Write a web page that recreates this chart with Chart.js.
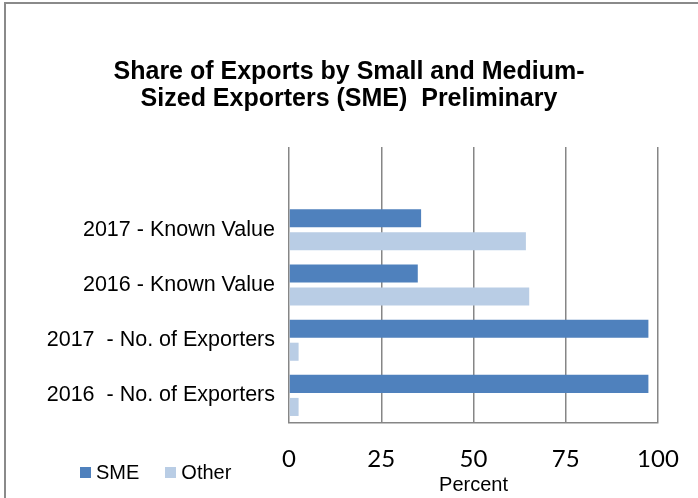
<!DOCTYPE html>
<html>
<head>
<meta charset="utf-8">
<script src="https://cdn.jsdelivr.net/npm/chart.js@4/dist/chart.umd.min.js"></script>
<style>
  body { margin: 0; background: #fff; width: 698px; height: 498px; overflow: hidden; position: relative; }
  #frame { position: absolute; left: 4px; top: 2px; width: 800px; height: 600px;
           border-left: 2px solid #8a8a8a; border-top: 2px solid #8a8a8a; }
  #mycanvas { position: absolute; left: 0; top: 0; }
  #legend { position: absolute; left: 80px; top: 461px; font-family: "Liberation Sans", Arial, sans-serif;
            font-size: 20px; color: #000; white-space: nowrap; }
  #legend span.item { display: inline-block; margin-right: 26px; }
  #legend span.box { display: inline-block; width: 11px; height: 11px; margin-right: 5px; vertical-align: 1px; }
</style>
</head>
<body>
<div id="frame"></div>
<canvas id="mycanvas" width="698" height="498"></canvas>
<div id="legend"></div>
<script>
// first row is blank in the original sheet, it leaves the empty band at the top
var categories = ["", "2017 - Known Value", "2016 - Known Value", "2017  - No. of Exporters", "2016  - No. of Exporters"];
var sme = [null, 35.8, 34.9, 97.4, 97.4];
var other = [null, 64.2, 65.1, 2.6, 2.6];
var seriesNames = ["SME", "Other"];
var seriesColors = ["#4F81BD", "#B9CDE5"];
var titleLines = ["Share of Exports by Small and Medium-", "Sized Exporters (SME)  Preliminary"];

Chart.defaults.font.family = '"Liberation Sans", Arial, sans-serif';
Chart.defaults.color = '#000';

var side = 40; // same padding both sides keeps the title centred on the page

var chartdata = {
  labels: categories,
  datasets: [
    {
      label: seriesNames[0],
      backgroundColor: seriesColors[0],
      data: sme,
      categoryPercentage: 0.836,
      barPercentage: 0.783
    },
    {
      label: seriesNames[1],
      backgroundColor: seriesColors[1],
      data: other,
      categoryPercentage: 0.836,
      barPercentage: 0.783
    }
  ]
};

var ctx = document.getElementById("mycanvas");

var barGraph = new Chart(ctx, {
  type: 'bar',
  data: chartdata,
  options: {
    indexAxis: 'y',
    responsive: false,
    animation: false,
    layout: { padding: { left: side, right: side, top: 0, bottom: 0 } },
    plugins: {
      legend: { display: false },
      tooltip: { enabled: false },
      title: {
        display: true,
        text: titleLines,
        font: { size: 25, weight: 'bold', lineHeight: 1.1 },
        color: '#000',
        padding: { top: 58, bottom: 34 }
      }
    },
    scales: {
      y: {
        afterFit: function(scale) { scale.width = 289 - side; },
        grid: { display: false, drawTicks: false },
        border: { display: false },
        ticks: { font: { size: 21.5 }, color: '#000', padding: 14 }
      },
      x: {
        min: 0,
        max: 100,
        afterFit: function(scale) {
          scale.height = 75;
          // let the "100" label hang past the plot, as in the original
          scale.paddingRight = 0;
          scale.paddingLeft = 0;
        },
        grid: { color: '#868686', lineWidth: 1.5, drawTicks: false },
        border: { color: '#868686', width: 1.5 },
        ticks: { stepSize: 25, font: { family: 'Lato', size: 24 }, color: '#000', padding: 22 },
        title: {
          display: true,
          text: 'Percent',
          font: { size: 20 },
          color: '#000',
          padding: { top: 0, bottom: 1 }
        }
      }
    }
  }
});

// legend sits bottom-left like the original, so build it by hand
var leg = document.getElementById("legend");
for (var i = 0; i < seriesNames.length; i++) {
  leg.innerHTML += '<span class="item"><span class="box" style="background:' + seriesColors[i] + '"></span>' + seriesNames[i] + '</span>';
}
</script>
</body>
</html>
